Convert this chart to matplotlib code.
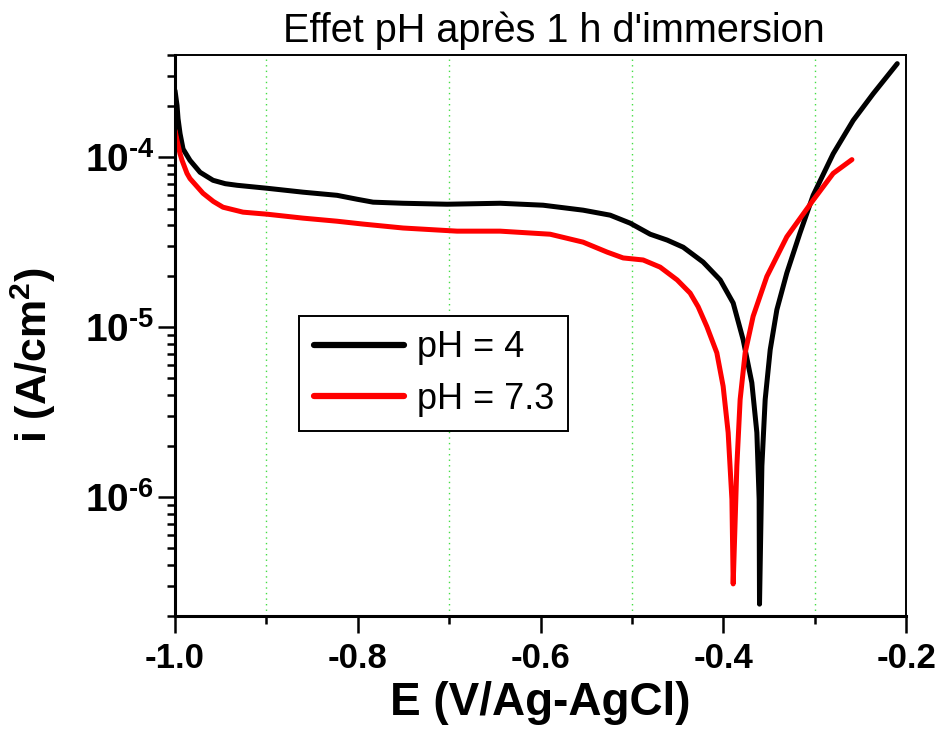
import matplotlib
matplotlib.use("Agg")
import matplotlib.pyplot as plt
from matplotlib.ticker import FixedLocator, FixedFormatter, LogLocator, NullFormatter

plt.rcParams['font.family'] = ['Liberation Sans', 'DejaVu Sans']
plt.rcParams['mathtext.fontset'] = 'custom'
plt.rcParams['mathtext.rm'] = 'Liberation Sans:bold'
plt.rcParams['mathtext.bf'] = 'Liberation Sans:bold'
plt.rcParams['axes.unicode_minus'] = False

# pH = 4 (black)
E_ph4 = [-1.0, -0.9978, -0.9967, -0.9945, -0.9912, -0.9836, -0.9726, -0.9584, -0.945,
         -0.9321, -0.8993, -0.860, -0.8227, -0.8008, -0.7833, -0.7505, -0.7023, -0.6443,
         -0.5973, -0.5535, -0.5239, -0.502, -0.4801, -0.4615, -0.444, -0.4222, -0.4035,
         -0.3893, -0.3784, -0.3689, -0.3634, -0.3609, -0.3605, -0.3579, -0.3543, -0.3488,
         -0.3415, -0.3306, -0.3163, -0.3018, -0.2799, -0.258, -0.2361, -0.2098]
i_ph4 = [2.47e-4, 2.02e-4, 1.69e-4, 1.38e-4, 1.12e-4, 9.6e-5, 8.17e-5, 7.33e-5, 7.0e-5,
         6.85e-5, 6.58e-5, 6.24e-5, 5.98e-5, 5.67e-5, 5.45e-5, 5.37e-5, 5.30e-5, 5.37e-5,
         5.23e-5, 4.89e-5, 4.57e-5, 4.10e-5, 3.53e-5, 3.26e-5, 2.96e-5, 2.42e-5, 1.90e-5,
         1.39e-5, 8.45e-6, 4.72e-6, 2.40e-6, 9.72e-7, 2.35e-7, 1.53e-6, 3.76e-6, 7.38e-6,
         1.27e-5, 2.09e-5, 3.58e-5, 5.98e-5, 1.05e-4, 1.65e-4, 2.37e-4, 3.56e-4]

# pH = 7.3 (red)
E_ph73 = [-1.0, -0.9978, -0.9945, -0.9923, -0.9869, -0.9836, -0.9694, -0.958, -0.9475,
          -0.9256, -0.8993, -0.860, -0.8227, -0.7942, -0.7505, -0.6914, -0.6443, -0.5896,
          -0.5535, -0.5272, -0.5097, -0.4878, -0.4692, -0.4506, -0.4364, -0.4276, -0.4181,
          -0.4072, -0.4003, -0.3948, -0.3907, -0.3893, -0.3853, -0.3817, -0.3762, -0.3675,
          -0.3525, -0.3306, -0.3018, -0.2799, -0.2594]
i_ph73 = [1.44e-4, 1.26e-4, 1.05e-4, 9.6e-5, 8.05e-5, 7.5e-5, 6.15e-5, 5.5e-5, 5.09e-5,
          4.76e-5, 4.63e-5, 4.39e-5, 4.21e-5, 4.05e-5, 3.84e-5, 3.68e-5, 3.68e-5, 3.53e-5,
          3.17e-5, 2.77e-5, 2.56e-5, 2.49e-5, 2.26e-5, 1.90e-5, 1.59e-5, 1.32e-5, 1.01e-5,
          7.08e-6, 4.50e-6, 2.40e-6, 9.72e-7, 3.09e-7, 1.53e-6, 3.76e-6, 7.08e-6, 1.16e-5,
          1.99e-5, 3.41e-5, 5.60e-5, 8.05e-5, 9.70e-5]

x_ticks = [-1.0, -0.8, -0.6, -0.4, -0.2]
x_labels = ['-1.0', '-0.8', '-0.6', '-0.4', '-0.2']
x_grid = [-0.9, -0.7, -0.5, -0.3]
y_ticks = [1e-6, 1e-5, 1e-4]
y_labels = [r'10$^{\text{-6}}$', r'10$^{\text{-5}}$', r'10$^{\text{-4}}$']

fig = plt.figure(figsize=(9.42, 7.44), dpi=100)
ax = fig.add_axes([0.1858, 0.172, 0.7762, 0.754])

for g in x_grid:
    ax.axvline(g, color='#44dd44', linestyle=(0, (1, 3)), linewidth=1.0, zorder=0)

ax.plot(E_ph4, i_ph4, color='black', linewidth=3.6, label='pH = 4',
        solid_capstyle='round', solid_joinstyle='round')
ax.plot(E_ph73, i_ph73, color='red', linewidth=3.6, label='pH = 7.3',
        solid_capstyle='round', solid_joinstyle='round')

ax.set_yscale('log')
ax.set_xlim(-1.0, -0.2)
ax.set_ylim(2.0e-7, 4.0e-4)

ax.xaxis.set_major_locator(FixedLocator(x_ticks))
ax.xaxis.set_major_formatter(FixedFormatter(x_labels))
ax.xaxis.set_minor_locator(FixedLocator(x_grid))
ax.yaxis.set_major_locator(FixedLocator(y_ticks))
ax.yaxis.set_major_formatter(FixedFormatter(y_labels))
ax.yaxis.set_minor_locator(LogLocator(base=10, subs=range(2, 10)))
ax.yaxis.set_minor_formatter(NullFormatter())

ax.tick_params(which='major', direction='out', length=12, width=1.8, labelsize=25, pad=7)
ax.tick_params(which='minor', direction='out', length=5.8, width=1.8)
ax.tick_params(axis='y', which='major', pad=3, labelsize=28)
ax.tick_params(top=False, right=False, which='both')
for lab in ax.get_xticklabels() + ax.get_yticklabels():
    lab.set_fontweight('bold')

for side in ['left', 'bottom']:
    ax.spines[side].set_linewidth(2.2)
for side in ['top', 'right']:
    ax.spines[side].set_linewidth(1.4)

ax.set_xlabel('E (V/Ag-AgCl)', fontsize=33, fontweight='bold', labelpad=4)
ax.set_ylabel(r'i (A/cm$^{\text{2}}$)', fontsize=31, fontweight='bold')
ax.yaxis.set_label_coords(-0.16, 0.465)

fig.text(0.588, 0.9435, "Effet pH après 1 h d'immersion", fontsize=28.5,
         ha='center', va='baseline')

leg = ax.legend(loc='upper left', bbox_to_anchor=(0.17, 0.535), fontsize=26,
                frameon=True, fancybox=False, edgecolor='black', framealpha=1,
                handlelength=2.5, handletextpad=0.35, borderpad=0.4,
                labelspacing=0.45, borderaxespad=0)
leg.get_frame().set_linewidth(1.4)
for line in leg.get_lines():
    line.set_linewidth(4.5)

fig.savefig('out.png', dpi=100)
